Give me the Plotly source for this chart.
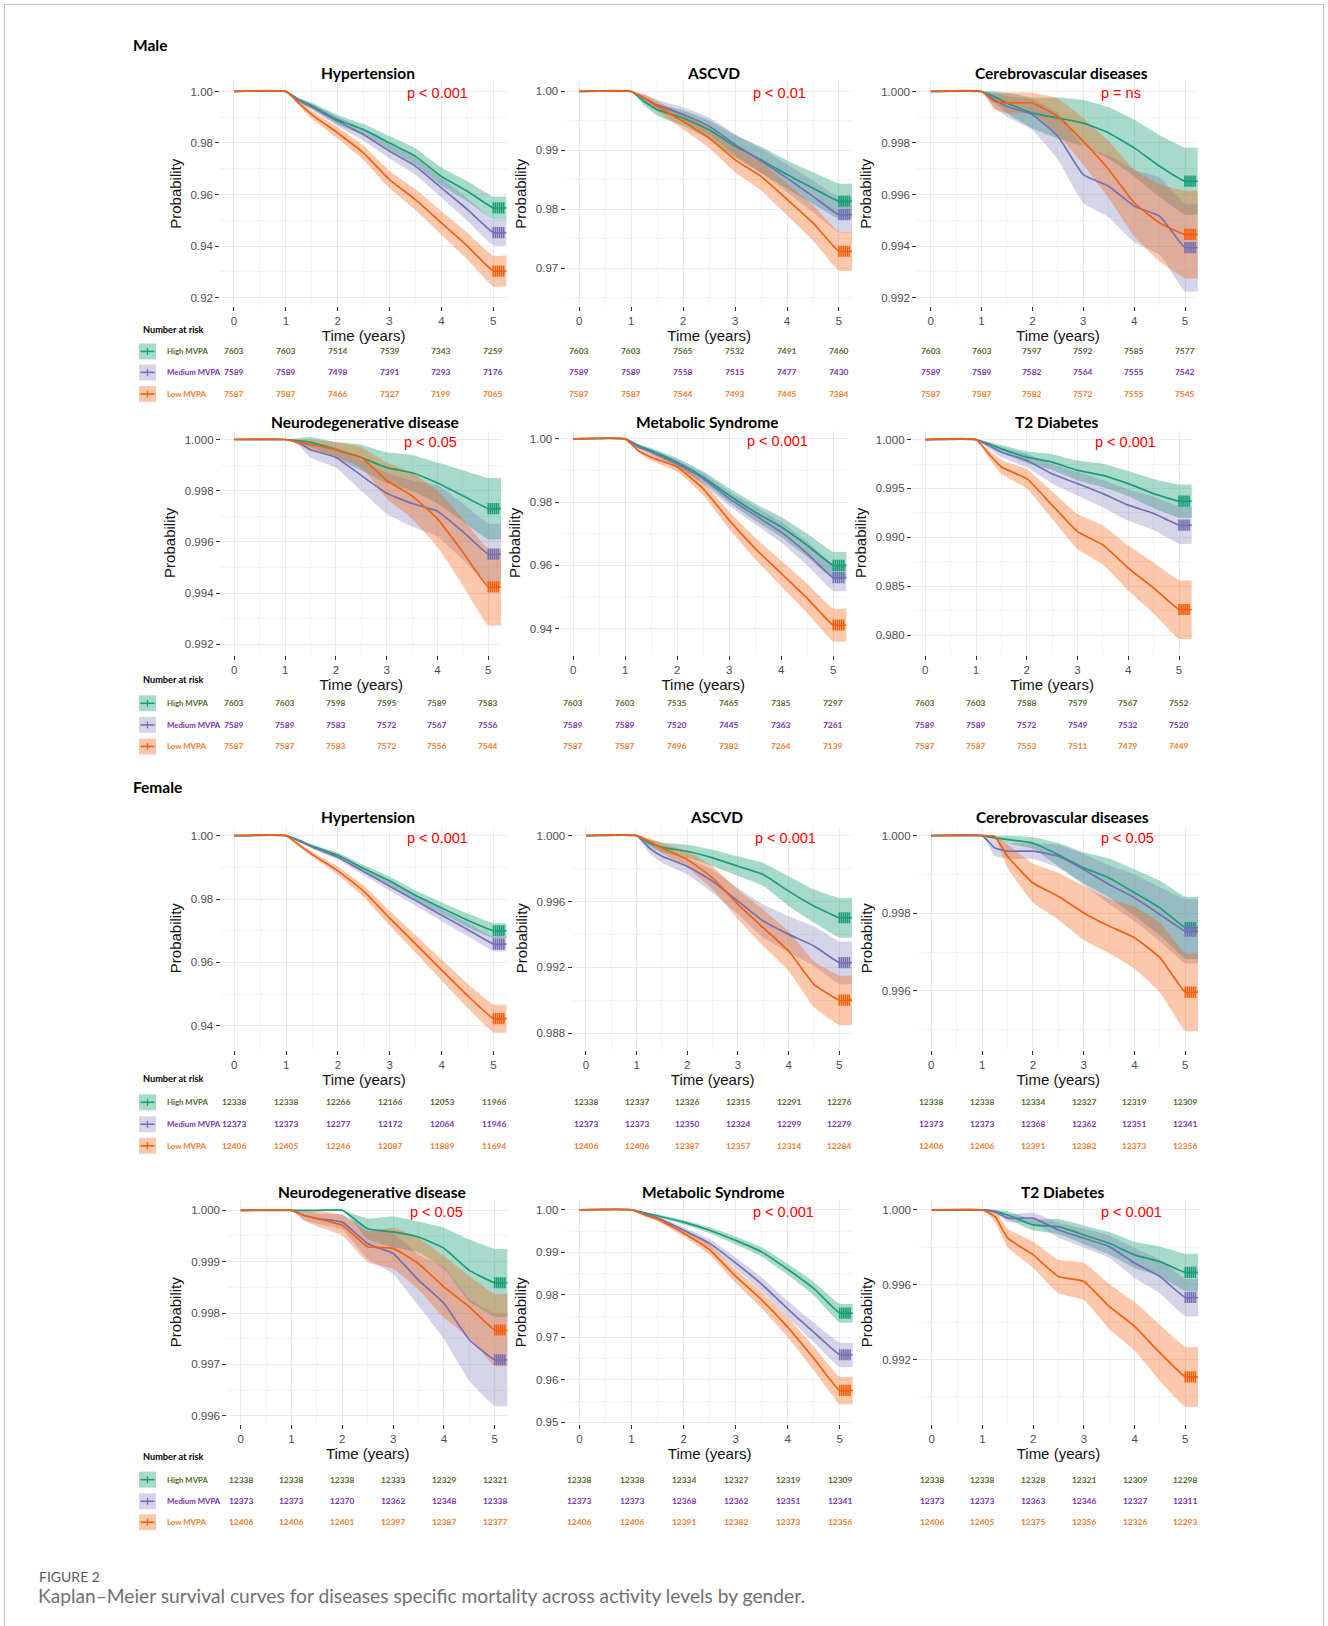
import plotly.graph_objects as go

W, H = 1328, 1626

# ---------------- data ----------------
TIME = [0, 1, 1.25, 1.5, 2, 2.5, 3, 3.5, 4, 4.5, 5, 5.25]
CENSOR_T = [5.0, 5.04, 5.08, 5.12, 5.16, 5.2]
X_TICKS = [0, 1, 2, 3, 4, 5]
GROUPS = ["High MVPA", "Medium MVPA", "Low MVPA"]
TITLES = ["Hypertension", "ASCVD", "Cerebrovascular diseases",
          "Neurodegenerative disease", "Metabolic Syndrome", "T2 Diabetes"]
P_MALE = ["p < 0.001", "p < 0.01", "p = ns", "p < 0.05", "p < 0.001", "p < 0.001"]
P_FEMALE = ["p < 0.001", "p < 0.001", "p < 0.05", "p < 0.05", "p < 0.001", "p < 0.001"]

# Male - Hypertension
m_htn_high = [1, 1, 0.9968, 0.9945, 0.9890, 0.9852, 0.9800, 0.9748, 0.9670, 0.9613, 0.9548, 0.9548]
m_htn_high_ci = [0, 0, 0.0008, 0.0012, 0.0018, 0.0022, 0.0027, 0.0031, 0.0035, 0.0039, 0.0045, 0.0045]
m_htn_med = [1, 1, 0.9965, 0.9940, 0.9884, 0.9832, 0.9768, 0.9710, 0.9626, 0.9542, 0.9452, 0.9452]
m_htn_med_ci = [0, 0, 0.0008, 0.0012, 0.0018, 0.0023, 0.0028, 0.0033, 0.0038, 0.0044, 0.0050, 0.0050]
m_htn_low = [1, 1, 0.9955, 0.9910, 0.9839, 0.9761, 0.9658, 0.9580, 0.9490, 0.9400, 0.9303, 0.9303]
m_htn_low_ci = [0, 0, 0.0010, 0.0015, 0.0022, 0.0028, 0.0034, 0.0040, 0.0046, 0.0052, 0.0060, 0.0060]
m_htn_risk = [[7603, 7603, 7514, 7539, 7343, 7259], [7589, 7589, 7498, 7391, 7293, 7176], [7587, 7587, 7466, 7327, 7199, 7065]]

# Male - ASCVD
m_ascvd_high = [1, 1, 0.9983, 0.9969, 0.9955, 0.9935, 0.9907, 0.9884, 0.9859, 0.9836, 0.9814, 0.9814]
m_ascvd_high_ci = [0, 0, 0.0007, 0.0010, 0.0013, 0.0016, 0.0019, 0.0022, 0.0024, 0.0027, 0.0030, 0.0030]
m_ascvd_med = [1, 1, 0.9989, 0.9977, 0.9961, 0.9941, 0.9910, 0.9882, 0.9853, 0.9822, 0.9791, 0.9791]
m_ascvd_med_ci = [0, 0, 0.0006, 0.0009, 0.0012, 0.0015, 0.0018, 0.0021, 0.0024, 0.0027, 0.0030, 0.0030]
m_ascvd_low = [1, 1, 0.9989, 0.9975, 0.9949, 0.9921, 0.9884, 0.9856, 0.9817, 0.9777, 0.9729, 0.9729]
m_ascvd_low_ci = [0, 0, 0.0006, 0.0009, 0.0013, 0.0017, 0.0021, 0.0024, 0.0027, 0.0030, 0.0033, 0.0033]
m_ascvd_risk = [[7603, 7603, 7565, 7532, 7491, 7460], [7589, 7589, 7558, 7515, 7477, 7430], [7587, 7587, 7544, 7493, 7445, 7384]]

# Male - Cerebrovascular
m_cvd_high = [1, 1, 0.9998, 0.99955, 0.99916, 0.99897, 0.99877, 0.99839, 0.99781, 0.9971, 0.99652, 0.99652]
m_cvd_high_ci = [0, 0, 0.0002, 0.0004, 0.0006, 0.0008, 0.0009, 0.0010, 0.0011, 0.0012, 0.0013, 0.0013]
m_cvd_med = [1, 1, 0.99968, 0.99942, 0.9991, 0.99826, 0.99677, 0.99632, 0.99555, 0.99516, 0.99394, 0.99394]
m_cvd_med_ci = [0, 0, 0.0003, 0.0004, 0.0006, 0.0009, 0.0011, 0.0012, 0.0014, 0.0015, 0.0017, 0.0017]
m_cvd_low = [1, 1, 0.99961, 0.99955, 0.99955, 0.99903, 0.99806, 0.99697, 0.99568, 0.9949, 0.99445, 0.99445]
m_cvd_low_ci = [0, 0, 0.0003, 0.0004, 0.0004, 0.0007, 0.0009, 0.0011, 0.0013, 0.0015, 0.0017, 0.0017]
m_cvd_risk = [[7603, 7603, 7597, 7592, 7585, 7577], [7589, 7589, 7582, 7564, 7555, 7542], [7587, 7587, 7582, 7572, 7555, 7545]]

# Male - Neurodegenerative
m_neuro_high = [1, 1, 0.99995, 0.9999, 0.9996, 0.9993, 0.9989, 0.9987, 0.9983, 0.9978, 0.9973, 0.9973]
m_neuro_high_ci = [0, 0, 0.0001, 0.0002, 0.0003, 0.0005, 0.0006, 0.0007, 0.0008, 0.0010, 0.0012, 0.0012]
m_neuro_med = [1, 1, 0.9999, 0.9996, 0.9993, 0.9986, 0.9979, 0.9975, 0.9972, 0.9964, 0.99552, 0.99552]
m_neuro_med_ci = [0, 0, 0.0001, 0.0003, 0.0004, 0.0006, 0.0008, 0.0009, 0.0010, 0.0011, 0.0012, 0.0012]
m_neuro_low = [1, 1, 0.9999, 0.9998, 0.9996, 0.9993, 0.9984, 0.9978, 0.9969, 0.9956, 0.99424, 0.99424]
m_neuro_low_ci = [0, 0, 0.0001, 0.0002, 0.0003, 0.0004, 0.0007, 0.0009, 0.0011, 0.0013, 0.0015, 0.0015]
m_neuro_risk = [[7603, 7603, 7598, 7595, 7589, 7583], [7589, 7589, 7583, 7572, 7567, 7556], [7587, 7587, 7583, 7572, 7556, 7544]]

# Male - Metabolic Syndrome
m_mets_high = [1, 1, 0.9979, 0.9963, 0.9926, 0.9879, 0.9821, 0.9768, 0.9721, 0.9663, 0.9600, 0.9600]
m_mets_high_ci = [0, 0, 0.0005, 0.0008, 0.0013, 0.0018, 0.0023, 0.0027, 0.0032, 0.0037, 0.0043, 0.0043]
m_mets_med = [1, 1, 0.9974, 0.9958, 0.9921, 0.9874, 0.9811, 0.9758, 0.9705, 0.9637, 0.9561, 0.9561]
m_mets_med_ci = [0, 0, 0.0005, 0.0008, 0.0013, 0.0018, 0.0023, 0.0028, 0.0033, 0.0038, 0.0042, 0.0042]
m_mets_low = [1, 1, 0.9963, 0.9942, 0.9911, 0.9842, 0.9742, 0.9653, 0.9574, 0.9495, 0.9411, 0.9411]
m_mets_low_ci = [0, 0, 0.0006, 0.0010, 0.0015, 0.0021, 0.0028, 0.0034, 0.0040, 0.0046, 0.0052, 0.0052]
m_mets_risk = [[7603, 7603, 7535, 7465, 7385, 7297], [7589, 7589, 7520, 7445, 7363, 7261], [7587, 7587, 7496, 7382, 7264, 7139]]

# Male - T2 Diabetes
m_t2d_high = [1, 1, 0.99956, 0.99905, 0.9982, 0.9977, 0.99685, 0.99634, 0.99549, 0.99447, 0.9937, 0.9937]
m_t2d_high_ci = [0, 0, 0.0002, 0.0004, 0.0006, 0.0008, 0.0010, 0.0012, 0.0013, 0.0015, 0.0017, 0.0017]
m_t2d_med = [1, 1, 0.99939, 0.99871, 0.99786, 0.99651, 0.99549, 0.99447, 0.99329, 0.99244, 0.99125, 0.99125]
m_t2d_med_ci = [0, 0, 0.0003, 0.0005, 0.0007, 0.0010, 0.0012, 0.0014, 0.0016, 0.0017, 0.0019, 0.0019]
m_t2d_low = [1, 1, 0.99854, 0.99719, 0.996, 0.99329, 0.99058, 0.98922, 0.98685, 0.98481, 0.98261, 0.98261]
m_t2d_low_ci = [0, 0, 0.0004, 0.0007, 0.0010, 0.0014, 0.0018, 0.0020, 0.0023, 0.0026, 0.0030, 0.0030]
m_t2d_risk = [[7603, 7603, 7588, 7579, 7567, 7552], [7589, 7589, 7572, 7549, 7532, 7520], [7587, 7587, 7553, 7511, 7479, 7449]]

# Female - Hypertension
f_htn_high = [1, 1, 0.9985, 0.9967, 0.9938, 0.9896, 0.9857, 0.9811, 0.9772, 0.9733, 0.9700, 0.9700]
f_htn_high_ci = [0, 0, 0.0003, 0.0005, 0.0008, 0.0011, 0.0013, 0.0016, 0.0018, 0.0021, 0.0024, 0.0024]
f_htn_med = [1, 1, 0.9983, 0.9964, 0.9932, 0.9886, 0.9840, 0.9795, 0.9749, 0.9704, 0.9658, 0.9658]
f_htn_med_ci = [0, 0, 0.0003, 0.0005, 0.0008, 0.0011, 0.0014, 0.0016, 0.0019, 0.0021, 0.0023, 0.0023]
f_htn_low = [1, 1, 0.9970, 0.9941, 0.9889, 0.9824, 0.9739, 0.9658, 0.9576, 0.9495, 0.9423, 0.9423]
f_htn_low_ci = [0, 0, 0.0005, 0.0008, 0.0013, 0.0018, 0.0023, 0.0028, 0.0033, 0.0038, 0.0044, 0.0044]
f_htn_risk = [[12338, 12338, 12266, 12166, 12053, 11966], [12373, 12373, 12277, 12172, 12064, 11946], [12406, 12405, 12246, 12087, 11889, 11694]]

# Female - ASCVD
f_ascvd_high = [1, 1, 0.99956, 0.99929, 0.99905, 0.99865, 0.99814, 0.99764, 0.99663, 0.99572, 0.99501, 0.99501]
f_ascvd_high_ci = [0, 0, 0.0002, 0.0003, 0.0004, 0.0005, 0.0006, 0.0007, 0.0009, 0.0010, 0.0012, 0.0012]
f_ascvd_med = [1, 1, 0.99925, 0.99875, 0.99814, 0.99723, 0.99602, 0.99481, 0.994, 0.99329, 0.99228, 0.99228]
f_ascvd_med_ci = [0, 0, 0.0003, 0.0004, 0.0005, 0.0007, 0.0008, 0.0010, 0.0011, 0.0012, 0.0013, 0.0013]
f_ascvd_low = [1, 1, 0.99966, 0.99925, 0.99855, 0.99743, 0.99582, 0.9944, 0.99299, 0.99097, 0.9900, 0.9900]
f_ascvd_low_ci = [0, 0, 0.0002, 0.0003, 0.0005, 0.0007, 0.0009, 0.0011, 0.0012, 0.0014, 0.0015, 0.0015]
f_ascvd_risk = [[12338, 12337, 12326, 12315, 12291, 12276], [12373, 12373, 12350, 12324, 12299, 12279], [12406, 12406, 12387, 12357, 12314, 12284]]

# Female - Cerebrovascular
f_cvd_high = [1, 1, 0.99994, 0.9999, 0.99981, 0.99951, 0.99917, 0.99891, 0.99853, 0.99814, 0.99763, 0.99763]
f_cvd_high_ci = [0, 0, 0.00005, 0.0001, 0.00015, 0.0003, 0.0004, 0.0005, 0.0006, 0.0007, 0.0008, 0.0008]
f_cvd_med = [1, 1, 0.99968, 0.9996, 0.9996, 0.99947, 0.99913, 0.99874, 0.9984, 0.99797, 0.99754, 0.99754]
f_cvd_med_ci = [0, 0, 0.0002, 0.0002, 0.0002, 0.0003, 0.0004, 0.0005, 0.0006, 0.0007, 0.00083, 0.00083]
f_cvd_low = [1, 1, 0.99998, 0.99947, 0.99878, 0.99844, 0.99801, 0.99767, 0.99737, 0.99686, 0.99597, 0.99597]
f_cvd_low_ci = [0, 0, 0.00003, 0.0003, 0.0005, 0.0006, 0.0007, 0.0007, 0.0008, 0.0009, 0.0010, 0.0010]
f_cvd_risk = [[12338, 12338, 12334, 12327, 12319, 12309], [12373, 12373, 12368, 12362, 12351, 12341], [12406, 12406, 12391, 12382, 12373, 12356]]

# Female - Neurodegenerative
f_neuro_high = [1, 1, 1, 1, 1, 0.99964, 0.99958, 0.99948, 0.99926, 0.99883, 0.99859, 0.99859]
f_neuro_high_ci = [0, 0, 0, 0, 0, 0.0002, 0.0003, 0.0003, 0.0004, 0.0006, 0.00066, 0.00066]
f_neuro_med = [1, 1, 0.9999, 0.99984, 0.99977, 0.99935, 0.99916, 0.99864, 0.99819, 0.99748, 0.99709, 0.99709]
f_neuro_med_ci = [0, 0, 0.0001, 0.0001, 0.00015, 0.0003, 0.0004, 0.0005, 0.0007, 0.0008, 0.0009, 0.0009]
f_neuro_low = [1, 1, 0.9999, 0.99984, 0.99971, 0.99929, 0.99926, 0.99896, 0.99851, 0.99812, 0.99767, 0.99767]
f_neuro_low_ci = [0, 0, 0.0001, 0.00015, 0.0002, 0.0003, 0.0004, 0.0005, 0.0006, 0.0006, 0.0007, 0.0007]
f_neuro_risk = [[12338, 12338, 12338, 12333, 12329, 12321], [12373, 12373, 12370, 12362, 12348, 12338], [12406, 12406, 12401, 12397, 12387, 12377]]

# Female - Metabolic Syndrome
f_mets_high = [1, 1, 0.9993, 0.9986, 0.9971, 0.9952, 0.9928, 0.9901, 0.9860, 0.9815, 0.9757, 0.9757]
f_mets_high_ci = [0, 0, 0.0002, 0.0003, 0.0005, 0.0007, 0.0009, 0.0011, 0.0013, 0.0016, 0.0022, 0.0022]
f_mets_med = [1, 1, 0.9990, 0.9981, 0.9952, 0.9921, 0.9875, 0.9825, 0.9767, 0.9712, 0.9659, 0.9659]
f_mets_med_ci = [0, 0, 0.0003, 0.0004, 0.0007, 0.0010, 0.0013, 0.0016, 0.0019, 0.0023, 0.0029, 0.0029]
f_mets_low = [1, 1, 0.9988, 0.9978, 0.9945, 0.9906, 0.9844, 0.9788, 0.9724, 0.9651, 0.9575, 0.9575]
f_mets_low_ci = [0, 0, 0.0003, 0.0005, 0.0008, 0.0012, 0.0016, 0.0020, 0.0024, 0.0028, 0.0032, 0.0032]
f_mets_risk = [[12338, 12338, 12334, 12327, 12319, 12309], [12373, 12373, 12368, 12362, 12351, 12341], [12406, 12406, 12391, 12382, 12373, 12356]]

# Female - T2 Diabetes
f_t2d_high = [1, 1, 0.99991, 0.99973, 0.9992, 0.99911, 0.99867, 0.99822, 0.9976, 0.99724, 0.99666, 0.99666]
f_t2d_high_ci = [0, 0, 0.0001, 0.0002, 0.0003, 0.0004, 0.0005, 0.0006, 0.0007, 0.0008, 0.0010, 0.0010]
f_t2d_med = [1, 1, 0.99991, 0.99956, 0.99956, 0.99893, 0.99849, 0.99804, 0.99716, 0.99644, 0.99532, 0.99532]
f_t2d_med_ci = [0, 0, 0.0001, 0.0002, 0.0003, 0.0004, 0.0005, 0.0006, 0.0008, 0.0009, 0.0010, 0.0010]
f_t2d_low = [1, 1, 0.99964, 0.99849, 0.9976, 0.99644, 0.99618, 0.99484, 0.99378, 0.99236, 0.99108, 0.99108]
f_t2d_low_ci = [0, 0, 0.0003, 0.0005, 0.0007, 0.0009, 0.0010, 0.0012, 0.0013, 0.0015, 0.0016, 0.0016]
f_t2d_risk = [[12338, 12338, 12328, 12321, 12309, 12298], [12373, 12373, 12363, 12346, 12327, 12311], [12406, 12405, 12375, 12356, 12326, 12293]]

# y-axis ticks per panel
Y_TICKS = [
    [0.92, 0.94, 0.96, 0.98, 1.00], [0.97, 0.98, 0.99, 1.00], [0.992, 0.994, 0.996, 0.998, 1.000],
    [0.992, 0.994, 0.996, 0.998, 1.000], [0.94, 0.96, 0.98, 1.00], [0.980, 0.985, 0.990, 0.995, 1.000],
    [0.94, 0.96, 0.98, 1.00], [0.988, 0.992, 0.996, 1.000], [0.996, 0.998, 1.000],
    [0.996, 0.997, 0.998, 0.999, 1.000], [0.95, 0.96, 0.97, 0.98, 0.99, 1.00], [0.992, 0.996, 1.000],
]
Y_MINOR = [
    [0.93, 0.95, 0.97, 0.99], [0.965, 0.975, 0.985, 0.995], [0.993, 0.995, 0.997, 0.999],
    [0.993, 0.995, 0.997, 0.999], [0.95, 0.97, 0.99], [0.9825, 0.9875, 0.9925, 0.9975],
    [0.95, 0.97, 0.99], [0.990, 0.994, 0.998], [0.995, 0.997, 0.999],
    [0.9965, 0.9975, 0.9985, 0.9995], [0.955, 0.965, 0.975, 0.985, 0.995], [0.990, 0.994, 0.998],
]
Y_FMT = [".2f", ".2f", ".3f", ".3f", ".2f", ".3f", ".2f", ".3f", ".3f", ".3f", ".2f", ".3f"]
Y_RANGE = [
    [0.91675, 1.00387], [0.96362, 1.00169], [0.991675, 1.000387],
    [0.991579, 1.000347], [0.93158, 1.00262], [0.977945, 1.000916],
    [0.93225, 1.00305], [0.98695, 1.000588], [0.994468, 1.000249],
    [0.99583, 1.0002], [0.9495, 1.00229], [0.98853, 1.00053],
]
X_RANGE = [-0.265, 5.265]

CURVES = [
    [(m_htn_high, m_htn_high_ci), (m_htn_med, m_htn_med_ci), (m_htn_low, m_htn_low_ci)],
    [(m_ascvd_high, m_ascvd_high_ci), (m_ascvd_med, m_ascvd_med_ci), (m_ascvd_low, m_ascvd_low_ci)],
    [(m_cvd_high, m_cvd_high_ci), (m_cvd_med, m_cvd_med_ci), (m_cvd_low, m_cvd_low_ci)],
    [(m_neuro_high, m_neuro_high_ci), (m_neuro_med, m_neuro_med_ci), (m_neuro_low, m_neuro_low_ci)],
    [(m_mets_high, m_mets_high_ci), (m_mets_med, m_mets_med_ci), (m_mets_low, m_mets_low_ci)],
    [(m_t2d_high, m_t2d_high_ci), (m_t2d_med, m_t2d_med_ci), (m_t2d_low, m_t2d_low_ci)],
    [(f_htn_high, f_htn_high_ci), (f_htn_med, f_htn_med_ci), (f_htn_low, f_htn_low_ci)],
    [(f_ascvd_high, f_ascvd_high_ci), (f_ascvd_med, f_ascvd_med_ci), (f_ascvd_low, f_ascvd_low_ci)],
    [(f_cvd_high, f_cvd_high_ci), (f_cvd_med, f_cvd_med_ci), (f_cvd_low, f_cvd_low_ci)],
    [(f_neuro_high, f_neuro_high_ci), (f_neuro_med, f_neuro_med_ci), (f_neuro_low, f_neuro_low_ci)],
    [(f_mets_high, f_mets_high_ci), (f_mets_med, f_mets_med_ci), (f_mets_low, f_mets_low_ci)],
    [(f_t2d_high, f_t2d_high_ci), (f_t2d_med, f_t2d_med_ci), (f_t2d_low, f_t2d_low_ci)],
]
RISKS = [m_htn_risk, m_ascvd_risk, m_cvd_risk, m_neuro_risk, m_mets_risk, m_t2d_risk,
         f_htn_risk, f_ascvd_risk, f_cvd_risk, f_neuro_risk, f_mets_risk, f_t2d_risk]
PVALS = P_MALE + P_FEMALE

# ---------------- styling / layout ----------------
LINE_COL = ["#1B9E77", "#7570B3", "#F4600F"]
BAND_COL = ["rgba(27,158,119,0.38)", "rgba(117,112,179,0.30)", "rgba(244,96,15,0.35)"]
TEXT_COL = ["#4F6B2A", "#7B30B0", "#F47B2C"]

# pixel positions of t=0 and t=5 for each panel
X_PX = [(234, 493.3), (579.3, 839), (930.7, 1185),
        (234.3, 488.3), (573.3, 833.3), (925.3, 1179),
        (234.3, 493.5), (586, 839.3), (931.3, 1185.3),
        (240.7, 494.7), (579.5, 839.7), (931.7, 1185.3)]
ROW_PX = [(81.7, 306.7), (431.7, 656.7), (828, 1053), (1203, 1428)]
NAR_Y = [330.5, 681, 1081.3, 1459.7]
RISK_Y = [(352.3, 373.3, 395), (705, 726.7, 748.3), (1105, 1127, 1148.6), (1483.3, 1505, 1526)]

TICK_FONT = dict(family="Liberation Sans, Arial", size=11.5, color="#4D4D4D")
TITLE_FONT = dict(family="Liberation Sans, Arial", size=15, color="#111111")
LABEL_FONT = "Lato, Carlito, sans-serif"
SHAPE = dict(shape="spline", smoothing=0.4)

fig = go.Figure()
annotations = []
shapes = []


def py(p):
    return 1 - p / H


for i in range(12):
    n = i + 1
    xs = "x" if n == 1 else f"x{n}"
    ys = "y" if n == 1 else f"y{n}"
    row = i // 3
    x0, x5 = X_PX[i]
    ppy = (x5 - x0) / 5.0
    left = x0 + X_RANGE[0] * ppy
    right = x0 + X_RANGE[1] * ppy
    top, bot = ROW_PX[row]

    # bands
    for g in range(3):
        surv, ci = CURVES[i][g]
        hi = [s + c for s, c in zip(surv, ci)]
        lo = [s - c for s, c in zip(surv, ci)]
        fig.add_trace(go.Scatter(x=TIME, y=hi, xaxis=xs, yaxis=ys, mode="lines",
                                 line=dict(width=0, **SHAPE), hoverinfo="skip", showlegend=False))
        fig.add_trace(go.Scatter(x=TIME, y=lo, xaxis=xs, yaxis=ys, mode="lines",
                                 line=dict(width=0, **SHAPE), fill="tonexty", fillcolor=BAND_COL[g],
                                 hoverinfo="skip", showlegend=False))
    # lines
    for g in range(3):
        surv, ci = CURVES[i][g]
        fig.add_trace(go.Scatter(x=TIME, y=surv, xaxis=xs, yaxis=ys, mode="lines",
                                 line=dict(color=LINE_COL[g], width=1.7, **SHAPE), name=GROUPS[g],
                                 showlegend=False))
        fig.add_trace(go.Scatter(x=CENSOR_T, y=[surv[-1]] * len(CENSOR_T), xaxis=xs, yaxis=ys,
                                 mode="markers",
                                 marker=dict(symbol="line-ns", size=8,
                                             line=dict(color=LINE_COL[g], width=1.6)),
                                 hoverinfo="skip", showlegend=False))

    axis_common = dict(showline=False, zeroline=False, ticks="outside", ticklen=4, tickwidth=1,
                       tickcolor="#333333", tickfont=TICK_FONT, showgrid=True,
                       gridcolor="#EBEBEB", gridwidth=1.4)
    fig.update_layout(**{
        ("xaxis" if n == 1 else f"xaxis{n}"): dict(
            axis_common, domain=[left / W, right / W], range=X_RANGE, anchor=ys,
            tickvals=X_TICKS, ticktext=[str(t) for t in X_TICKS],
            minor=dict(showgrid=True, tickvals=[0.5, 1.5, 2.5, 3.5, 4.5],
                       gridcolor="#F3F3F3", gridwidth=0.8),
            title=dict(text="Time (years)", font=TITLE_FONT, standoff=3)),
        ("yaxis" if n == 1 else f"yaxis{n}"): dict(
            axis_common, domain=[py(bot), py(top)], range=Y_RANGE[i], anchor=xs,
            tickvals=Y_TICKS[i], tickformat=Y_FMT[i],
            minor=dict(showgrid=True, tickvals=Y_MINOR[i], gridcolor="#F3F3F3", gridwidth=0.8),
            title=dict(text="Probability", font=TITLE_FONT, standoff=5)),
    })

    # panel title
    annotations.append(dict(text="<b>" + TITLES[i % 6] + "</b>", xref="paper", yref="paper",
                            x=((left + right) / 2 + 4) / W, y=py(top - 8.5),
                            xanchor="center", yanchor="middle", showarrow=False,
                            font=dict(family=LABEL_FONT, size=15.5, color="#000000")))
    # p-value
    annotations.append(dict(text=PVALS[i], xref=xs, yref=ys, x=3.3, y=1.0, yshift=-2,
                            xanchor="left", yanchor="middle", showarrow=False,
                            font=dict(family="Liberation Sans, Arial", size=14.5, color="#FF0000")))
    # number at risk
    for g in range(3):
        for k, t in enumerate(X_TICKS):
            annotations.append(dict(text="<b>" + str(RISKS[i][g][k]) + "</b>", xref=xs, yref="paper",
                                    x=t, y=py(RISK_Y[row][g]), xanchor="center", yanchor="middle",
                                    showarrow=False,
                                    font=dict(family=LABEL_FONT, size=8.4, color=TEXT_COL[g])))

# risk-table legends (left column)
for row in range(4):
    annotations.append(dict(text="<b>Number at risk</b>", xref="paper", yref="paper",
                            x=140.5 / W, y=py(NAR_Y[row]), xanchor="left", yanchor="middle",
                            showarrow=False, font=dict(family=LABEL_FONT, size=9.2, color="#000000")))
    for g in range(3):
        yc = RISK_Y[row][g]
        shapes.append(dict(type="rect", xref="paper", yref="paper", x0=139 / W, x1=156 / W,
                           y0=py(yc + 8), y1=py(yc - 8), fillcolor=BAND_COL[g], line=dict(width=0)))
        shapes.append(dict(type="line", xref="paper", yref="paper", x0=140.5 / W, x1=154.5 / W,
                           y0=py(yc), y1=py(yc), line=dict(color=LINE_COL[g], width=1.6)))
        shapes.append(dict(type="line", xref="paper", yref="paper", x0=147.5 / W, x1=147.5 / W,
                           y0=py(yc + 3.5), y1=py(yc - 3.5), line=dict(color=LINE_COL[g], width=1.3)))
        annotations.append(dict(text="<b>" + GROUPS[g] + "</b>", xref="paper", yref="paper",
                                x=164.5 / W, y=py(yc), xanchor="left", yanchor="middle",
                                showarrow=False,
                                font=dict(family=LABEL_FONT, size=7.8, color=TEXT_COL[g])))

# sex labels
for txt, yp in [("Male", 45), ("Female", 789)]:
    annotations.append(dict(text="<b>" + txt + "</b>", xref="paper", yref="paper", x=131 / W,
                            y=py(yp), xanchor="left", yanchor="middle", showarrow=False,
                            font=dict(family=LABEL_FONT, size=15.5, color="#000000")))

# caption
annotations.append(dict(text="FIGURE 2", xref="paper", yref="paper", x=37 / W, y=py(1580),
                        xanchor="left", yanchor="middle", showarrow=False,
                        font=dict(family=LABEL_FONT, size=14, color="#5A5A5A")))
annotations.append(dict(text="Kaplan\u2013Meier survival curves for diseases specific mortality across activity levels by gender.",
                        xref="paper", yref="paper", x=36 / W, y=py(1599), xanchor="left",
                        yanchor="middle", showarrow=False,
                        font=dict(family=LABEL_FONT, size=19.2, color="#707070")))

# outer frame
shapes.append(dict(type="rect", xref="paper", yref="paper", x0=4.5 / W, x1=1323.5 / W,
                   y0=py(1660), y1=py(4.5), line=dict(color="#C4C4C4", width=1),
                   fillcolor="rgba(0,0,0,0)"))

fig.update_layout(width=W, height=H, margin=dict(l=0, r=0, t=0, b=0),
                  paper_bgcolor="white", plot_bgcolor="white", showlegend=False,
                  annotations=annotations, shapes=shapes)

fig.write_html("out.html", config={"displayModeBar": False},
               post_script="document.body.style.margin='0';document.body.style.overflow='hidden';")
